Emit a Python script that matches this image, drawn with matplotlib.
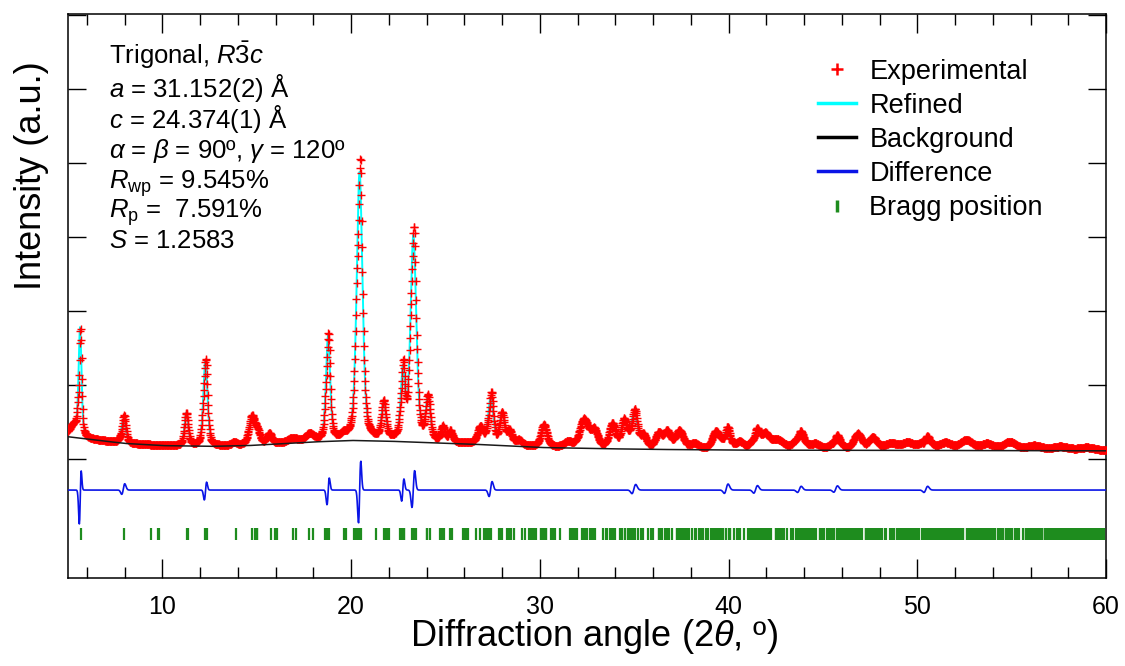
import numpy as np
import matplotlib
matplotlib.use('Agg')
import matplotlib.pyplot as plt
from matplotlib.lines import Line2D
from matplotlib.ticker import MultipleLocator

plt.rcParams['font.family'] = ['Liberation Sans', 'DejaVu Sans']
plt.rcParams['mathtext.fontset'] = 'custom'
plt.rcParams['mathtext.rm'] = 'Liberation Sans'
plt.rcParams['mathtext.it'] = 'Liberation Sans:italic'
plt.rcParams['mathtext.bf'] = 'Liberation Sans:bold'

# cell (hexagonal setting) and Cu Ka1 wavelength
a_lat = 31.152
c_lat = 24.374
wavelength = 1.5406

# refined background, intensity in units of 1000 counts
bg_tth = [5.0, 6.3, 8.0, 10.0, 12.5, 14.5, 16.0, 18.0, 20.0, 22.0, 24.0, 26.4, 28.0,
          30.0, 33.0, 35.7, 40.0, 50.0, 60.0]
bg_int = [0.30, 0.26, 0.21, 0.18, 0.17, 0.18, 0.20, 0.23, 0.25, 0.24, 0.22, 0.20, 0.18,
          0.155, 0.14, 0.13, 0.12, 0.115, 0.11]

# fitted reflections: position (deg), height above background, fwhm (deg)
peak_pos = [5.30, 5.64, 7.94, 11.27, 12.28, 13.80, 14.75, 15.05, 15.67, 16.90, 17.80,
            18.78, 19.60, 20.45, 21.73, 22.74, 23.30, 24.08, 24.86, 25.27,
            26.85, 27.40, 28.00, 28.40, 28.90, 30.22, 31.50, 32.35, 32.90, 33.85,
            34.47, 35.00, 35.50, 36.30, 36.75, 37.40, 38.20, 39.33, 39.90, 40.60,
            41.45, 41.95, 42.60, 43.77, 44.60, 45.70, 46.85, 47.65, 48.60, 49.50,
            50.47, 51.50, 52.60, 53.70, 54.90, 56.20, 57.60, 59.00]
peak_height = [0.16, 1.45, 0.32, 0.44, 1.16, 0.04, 0.38, 0.14, 0.14, 0.06, 0.10,
               1.40, 0.05, 3.62, 0.50, 0.90, 2.76, 0.58, 0.20, 0.15,
               0.22, 0.62, 0.42, 0.18, 0.07, 0.30, 0.07, 0.38, 0.22, 0.32,
               0.36, 0.46, 0.16, 0.20, 0.22, 0.24, 0.07, 0.23, 0.22, 0.09,
               0.20, 0.18, 0.12, 0.20, 0.07, 0.14, 0.21, 0.16, 0.08, 0.09,
               0.13, 0.09, 0.13, 0.08, 0.11, 0.06, 0.05, 0.04]
peak_fwhm = [0.50, 0.18, 0.28, 0.24, 0.26, 0.30, 0.38, 0.30, 0.30, 0.60, 0.50,
             0.26, 0.30, 0.36, 0.27, 0.26, 0.36, 0.28, 0.25, 0.25,
             0.35, 0.32, 0.30, 0.30, 0.40, 0.38, 0.50, 0.55, 0.40, 0.40,
             0.35, 0.40, 0.35, 0.40, 0.40, 0.50, 0.50, 0.45, 0.45, 0.50,
             0.50, 0.50, 0.80, 0.60, 0.60, 0.60, 0.50, 0.50, 0.80, 0.80,
             0.70, 0.80, 0.80, 0.80, 0.80, 1.00, 1.00, 1.00]

# misfit (obs - calc) around the main reflections
res_pos = [5.64, 7.94, 12.28, 18.78, 20.45, 22.74, 23.30, 27.40, 35.00, 39.90,
           41.45, 43.77, 45.70, 50.47]
res_anti = [0.34, 0.07, 0.12, 0.18, 0.42, 0.15, 0.25, 0.10, 0.06, 0.06,
            0.05, 0.04, 0.04, 0.04]
res_sym = [-0.22, 0.03, -0.03, -0.04, -0.06, 0.00, 0.03, 0.03, 0.03, 0.04,
           0.02, 0.02, 0.03, 0.02]
res_width = [0.05, 0.08, 0.06, 0.06, 0.06, 0.06, 0.07, 0.08, 0.10, 0.10,
             0.10, 0.10, 0.10, 0.10]

diff_offset = -0.42


def pseudo_voigt(x, pos, h, fwhm, eta=0.45):
    u = (x - pos) / fwhm
    return h * ((1 - eta) * np.exp(-4 * np.log(2) * u**2) + eta / (1 + 4 * u**2))


tth = np.arange(5.0, 60.0001, 0.02)
background = np.interp(tth, bg_tth, bg_int)
calc = background.copy()
for p, h, w in zip(peak_pos, peak_height, peak_fwhm):
    calc += pseudo_voigt(tth, p, h, w)

diff = np.zeros_like(tth)
for p, a, s, w in zip(res_pos, res_anti, res_sym, res_width):
    u = (tth - p) / w
    diff += a * u * np.exp(0.5 - 0.5 * u**2) + s * np.exp(-0.8 * u**2)
obs = calc + diff

# allowed reflections for R-3c (hexagonal axes)
h, k, l = np.meshgrid(np.arange(-18, 19), np.arange(-18, 19), np.arange(0, 17), indexing='ij')
h, k, l = h.ravel(), k.ravel(), l.ravel()
ok = (-h + k + l) % 3 == 0
ok &= ~(((h == 0) | (k == 0) | (h + k == 0)) & (l % 2 == 1))
ok &= ~((h == 0) & (k == 0) & (l == 0))
inv_d2 = 4.0 / 3.0 * (h**2 + h * k + k**2) / a_lat**2 + l**2 / c_lat**2
s = wavelength * np.sqrt(inv_d2) / 2
ok &= s < 1
bragg = np.unique(np.round(2 * np.degrees(np.arcsin(s[ok])), 4))
bragg = bragg[(bragg >= 5) & (bragg <= 60)]

fig = plt.figure(figsize=(11.25, 6.66), dpi=100)
ax = fig.add_axes([68 / 1125, 88 / 666, 1038 / 1125, 564 / 666])

ax.plot(tth, calc, color='#00FFFF', lw=1.4, zorder=2)
ax.plot(tth, obs, ls='none', marker='+', ms=6, mew=1.0, color='#FF0000', zorder=3)
ax.plot(tth, background, color='#1a1a1a', lw=1.1, zorder=4)
ax.plot(tth, diff + diff_offset, color='#0A14E6', lw=1.2, zorder=3)
ax.vlines(bragg, -1.095, -0.935, color='#1E8C1E', lw=1.6, zorder=3)

ax.set_xlim(5, 60)
ax.set_ylim(-1.608, 6.01)
ax.xaxis.set_major_locator(MultipleLocator(10))
ax.xaxis.set_minor_locator(MultipleLocator(2))
ax.set_yticks(np.arange(0, 7))
ax.tick_params(axis='x', which='major', direction='in', top=True, length=14, width=1,
               labelsize=18, pad=12)
ax.tick_params(axis='x', which='minor', direction='in', top=True, length=8, width=1)
ax.tick_params(axis='y', which='major', direction='in', right=True, length=13, width=1,
               labelleft=False)
for sp in ax.spines.values():
    sp.set_linewidth(1.1)

ax.set_xlabel(r'Diffraction angle (2$\theta$, º)', fontsize=26)
ax.set_ylabel('Intensity (a.u.)', fontsize=26)
ax.xaxis.set_label_coords(0.507, -0.07)
ax.yaxis.set_label_coords(-0.018, 0.713)

info = [r'Trigonal, $R\bar{3}c$',
        r'$a$ = 31.152(2) Å',
        r'$c$ = 24.374(1) Å',
        r'$\alpha$ = $\beta$ = 90º, $\gamma$ = 120º',
        r'$R_{\rm wp}$ = 9.545%',
        r'$R_{\rm p}$ =  7.591%',
        r'$S$ = 1.2583']
baselines = [64.3, 96.7, 128.3, 158.3, 188.3, 218.3, 248.3]
for txt, yb in zip(info, baselines):
    ax.text((109 - 68) / 1038, (578 - yb) / 564, txt, transform=ax.transAxes,
            fontsize=18.5, ha='left', va='baseline')

handles = [Line2D([], [], ls='none', marker='+', ms=9, mew=1.8, color='#FF0000'),
           Line2D([], [], color='#00FFFF', lw=2.5),
           Line2D([], [], color='black', lw=2.5),
           Line2D([], [], color='#0A14E6', lw=2.5),
           Line2D([], [], ls='none', marker='|', ms=9, mew=2.5, color='#1E8C1E')]
labels = ['Experimental', 'Refined', 'Background', 'Difference', 'Bragg position']
ax.legend(handles, labels, loc='upper left', bbox_to_anchor=(0.7225, 0.921),
          frameon=False, fontsize=19.5, borderpad=0, borderaxespad=0,
          handlelength=1.4, handletextpad=0.5, labelspacing=0.3, numpoints=1)

fig.savefig('out.png', dpi=100)
